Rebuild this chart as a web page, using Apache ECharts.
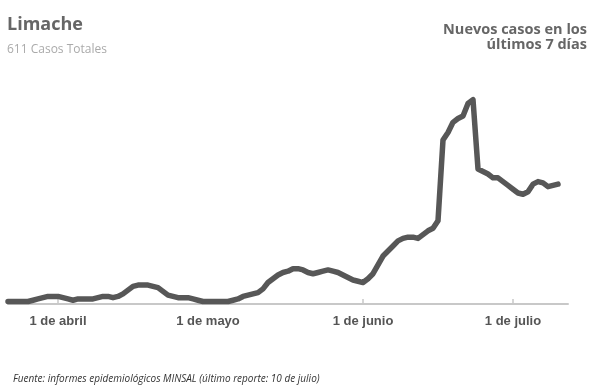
<!DOCTYPE html>
<html>
<head>
<meta charset="utf-8">
<script src="https://cdn.jsdelivr.net/npm/echarts@6/dist/echarts.min.js"></script>
<style>html,body{margin:0;padding:0;background:#fff}#c{width:600px;height:387px}</style>
</head>
<body>
<div id="c"></div>
<script>
// Data: 7-day rolling new cases, Limache, from 22 March to 10 July (2020)
const startDate = [2020, 2, 22]; // 22 de marzo
const values = [
  0,0,0,0,0,1,2,3,4,4,
  4,3,2,1,2,2,2,2,3,4,
  4,3,4,6,9,12,13,13,13,12,
  11,8,5,4,3,3,3,2,1,0,
  0,0,0,0,0,1,2,4,5,6,
  7,10,15,18,21,23,24,26,26,25,
  23,22,23,24,25,24,23,21,19,17,
  16,15,18,22,29,36,40,44,48,50,
  51,51,50,53,56,58,64,128,134,142,
  145,147,157,160,105,103,101,98,98,95,
  92,89,86,85,87,93,95,94,91,92,93
];
const extraDays = 2; // axis continues slightly past last report
const monthNames = ['enero','febrero','marzo','abril','mayo','junio','julio','agosto'];
const tickMonths = ['abril','mayo','junio','julio'];

const categories = [];
const d0 = new Date(startDate[0], startDate[1], startDate[2]);
for (let i = 0; i < values.length + extraDays; i++) {
  const d = new Date(d0.getTime());
  d.setDate(d0.getDate() + i);
  categories.push(d.getDate() + ' de ' + monthNames[d.getMonth()]);
}
const isTick = (idx) => {
  const c = categories[idx];
  return tickMonths.some(m => c === '1 de ' + m);
};
const seriesData = values.concat(new Array(extraDays).fill(null));

const chart = echarts.init(document.getElementById('c'), null, {renderer: 'canvas'});
chart.setOption({
  animation: false,
  backgroundColor: '#fff',
  title: [
    {text: 'Limache', left: 2, top: 11,
     textStyle: {fontFamily: 'Open Sans', fontWeight: 'bold', fontSize: 18, color: '#666'}},
    {text: '611 Casos Totales', left: 2, top: 39,
     textStyle: {fontFamily: 'Open Sans', fontWeight: 'normal', fontSize: 12, color: '#aaa'}},
    {text: 'Nuevos casos en los\núltimos 7 días', left: 587, top: 22, textAlign: 'right', padding: 0,
     textStyle: {fontFamily: 'Open Sans', fontWeight: 'bold', fontSize: 14.5, lineHeight: 15, color: '#666'}},
    {text: 'Fuente: informes epidemiológicos MINSAL (último reporte: 10 de julio)', left: 8, top: 369,
     textStyle: {fontFamily: 'Open Sans', fontStyle: 'italic', fontWeight: 'normal', fontSize: 10, color: '#333'}}
  ],
  grid: {left: 8, right: 32, top: 87, bottom: 83, containLabel: false},
  xAxis: {
    type: 'category',
    data: categories,
    boundaryGap: false,
    axisLine: {onZero: false, lineStyle: {color: '#c8c8c8', width: 2}},
    axisTick: {show: true, inside: true, length: 5, interval: (i) => isTick(i), lineStyle: {color: '#c8c8c8', width: 1.5}},
    axisLabel: {interval: (i) => isTick(i), margin: 11, fontFamily: 'Liberation Sans', fontWeight: 'bold', fontSize: 13, color: '#555'},
    splitLine: {show: false}
  },
  yAxis: {
    type: 'value', min: -2, max: 170,
    show: false,
    splitLine: {show: false}
  },
  series: [{
    type: 'line',
    data: seriesData,
    showSymbol: false,
    symbol: 'none',
    smooth: false,
    lineStyle: {color: '#575757', width: 5.5, join: 'round', cap: 'round'},
    connectNulls: false
  }]
});
</script>
</body>
</html>
